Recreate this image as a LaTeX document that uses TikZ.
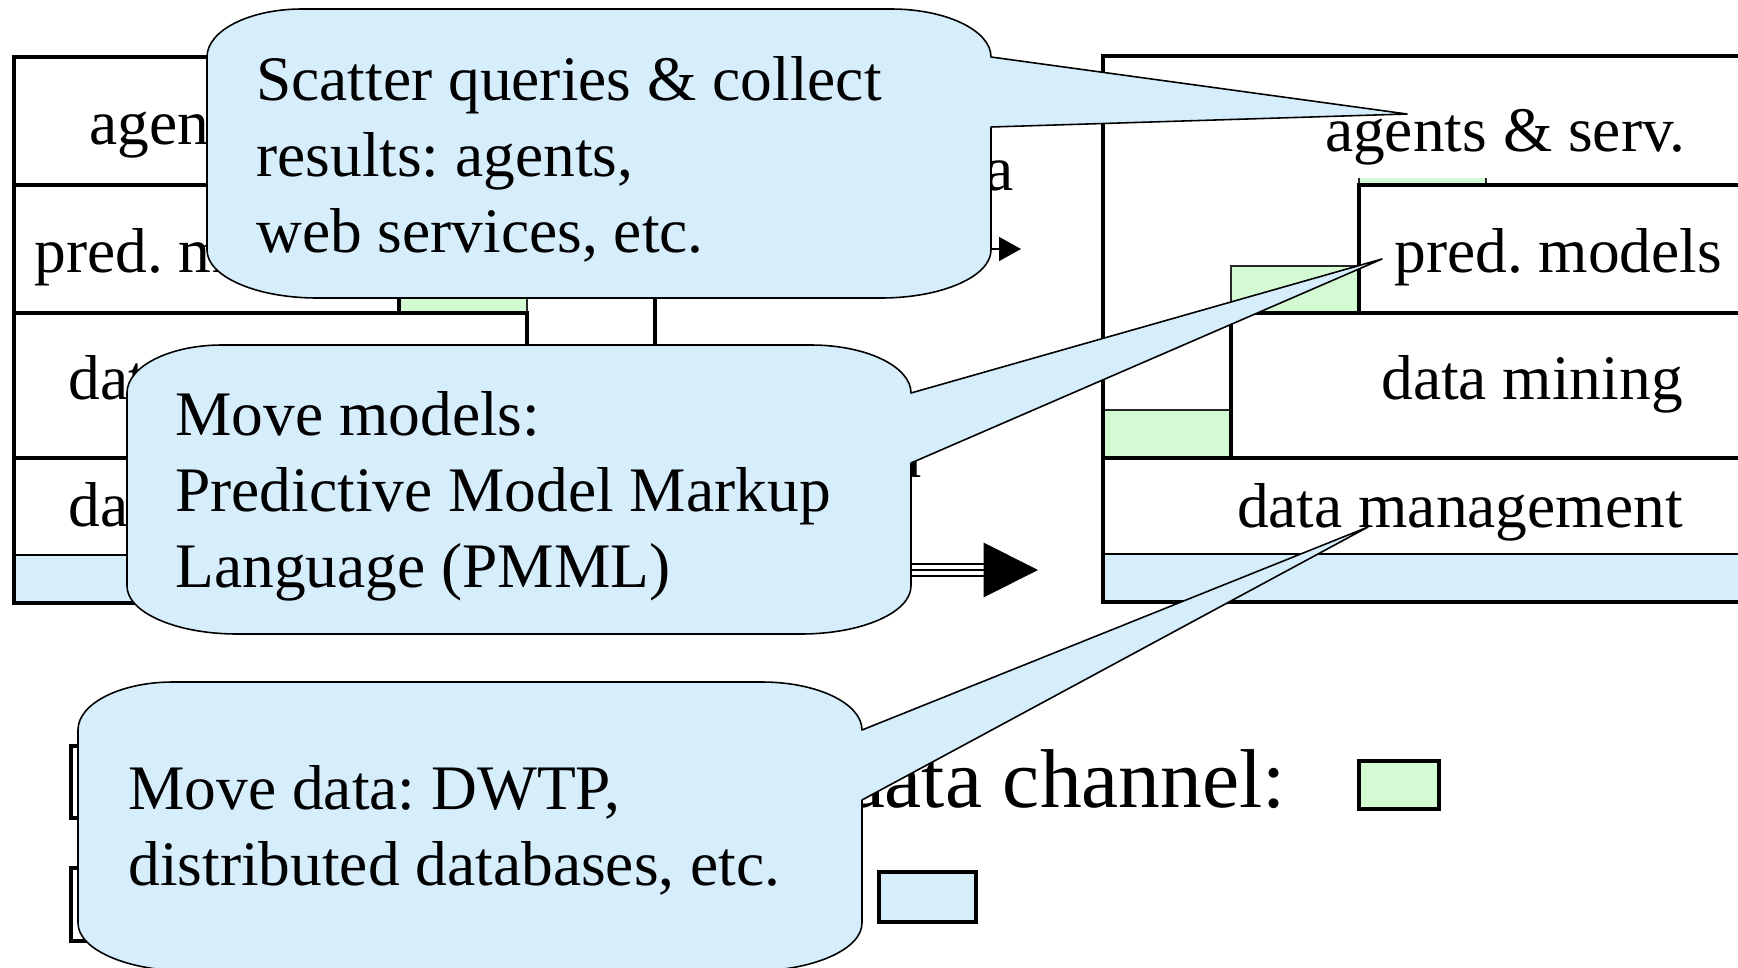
\documentclass[tikz,border=0pt]{standalone}
\usepackage{fontspec}
\setmainfont{Liberation Serif}
\usetikzlibrary{arrows.meta}
\definecolor{callblue}{RGB}{214,237,252}
\definecolor{chgreen}{RGB}{212,250,212}
\newcommand{\lbl}{\fontsize{36.1}{43}\selectfont}
\newcommand{\lgd}{\fontsize{47.5}{57}\selectfont}
\frenchspacing

\begin{document}
\begin{tikzpicture}[x=0.2mm, y=-0.2mm,
    wall/.style={line width=2.8pt},
    chan/.style={fill=chgreen, draw=black!85, line width=0.75pt},
    layer/.style={font=\lbl, inner sep=0pt},
    callout/.style={fill=callblue, draw=black, line width=0.9pt, line join=round},
    note/.style={font=\lbl, align=left, inner sep=0pt, anchor=base west}]
  \useasboundingbox (0,0) rectangle (1738,968);
  \def\callout(#1,#2)#3{%
    \filldraw[callout] ({#1+95},#2) -- ({#1+684},#2)
      arc[start angle=270, end angle=360, x radius=100, y radius=48]
      -- #3 -- ({#1+784},{#2+118}) -- ({#1+784},{#2+241})
      arc[start angle=0, end angle=90, x radius=110, y radius=48]
      -- ({#1+110},{#2+289})
      arc[start angle=90, end angle=180, x radius=110, y radius=48]
      -- (#1,{#2+48})
      arc[start angle=180, end angle=270, x radius=95, y radius=48]
      -- cycle;}

  % left stack
  \fill[callblue] (14,555) rectangle (655,603);
  \draw[line width=0.75pt] (14,555) -- (655,555);
  \draw[chan] (399,266) rectangle (527,313);
  \draw[chan] (527,410) rectangle (655,458);
  \draw[wall] (14,57) rectangle (655,603);
  \draw[wall] (14,185) -- (399,185) -- (399,313);
  \draw[wall] (14,313) -- (527,313) -- (527,458);
  \draw[wall] (14,458) -- (655,458);
  \node[layer, anchor=base west] (agentsL) at (89,144) {agents \& serv.};
  \node[layer, anchor=base west] (predL) at (34,272) {pred. models};
  \node[layer, anchor=base west] (miningL) at (68,399) {data mining};
  \node[layer, anchor=base west] (mgmtL) at (68,526) {data management};

  % right stack
  \fill[callblue] (1103,554) rectangle (1760,602);
  \draw[line width=0.75pt] (1103,554) -- (1760,554);
  \draw[chan] (1359,138) rectangle (1486,185);
  \draw[chan] (1231,266) rectangle (1359,313);
  \draw[chan] (1103,410) rectangle (1231,458);
  \draw[wall] (1103,56) rectangle (1746,602);
  \draw[wall] (1746,185) -- (1359,185) -- (1359,313);
  \draw[wall] (1746,313) -- (1231,313) -- (1231,458);
  \draw[wall] (1103,458) -- (1746,458);
  \node[layer, anchor=base east, fill=white, inner xsep=4pt, inner ysep=7.4pt] (agentsR) at (1693,151) {agents \& serv.};
  \node[layer, anchor=base west] (predR) at (1394,272) {pred. models};
  \node[layer, anchor=base east] (miningR) at (1683,399) {data mining};
  \node[layer, anchor=base east] (mgmtR) at (1683,527) {data management};

  % channels between the stacks
  \node[layer, anchor=base east] (queryA) at (1014,190) {a};
  \node[layer, anchor=base east] (modelA) at (922,477) {a};
  \coordinate (qs) at (940,249);
  \coordinate (qe) at (1021,249);
  \draw[line width=1pt, -{Triangle[length=12.5pt, width=13.6pt]}] (qs) -- (qe);
  \coordinate (ds) at (860,570);
  \coordinate (dm) at (985,570);
  \coordinate (de) at (1038,570);
  \draw[line width=1.1pt, double distance=6.2pt] (ds) -- (dm);
  \draw[line width=1.1pt, -{Triangle[length=31pt, width=31pt]}] (ds) -- (de);

  % legend
  \draw[line width=1.9pt, fill=white] (71,746) rectangle (200,818);
  \draw[line width=1.9pt, fill=white] (71,868) rectangle (200,941);
  \node[font=\lgd, inner sep=0pt, anchor=base east] (datach) at (1286,807) {data channel:};
  \draw[chan, draw=black, line width=1.9pt] (1359,761) rectangle (1439,809);
  \draw[fill=callblue, line width=1.9pt] (879,872) rectangle (976,922);

  % call-outs
  \callout(207,9){(1407,114)}
  \node[note] (scatter) at (256,252) {Scatter queries \& collect\\results: agents,\\web services, etc.};
  \callout(127,345){(1382,259)}
  \node[note] (models) at (175,587) {Move models:\\Predictive Model Markup\\Language (PMML)};
  \callout(78,682){(1368,527)}
  \node[note] (moving) at (128,885) {Move data: DWTP,\\distributed databases, etc.};
\end{tikzpicture}
\end{document}
